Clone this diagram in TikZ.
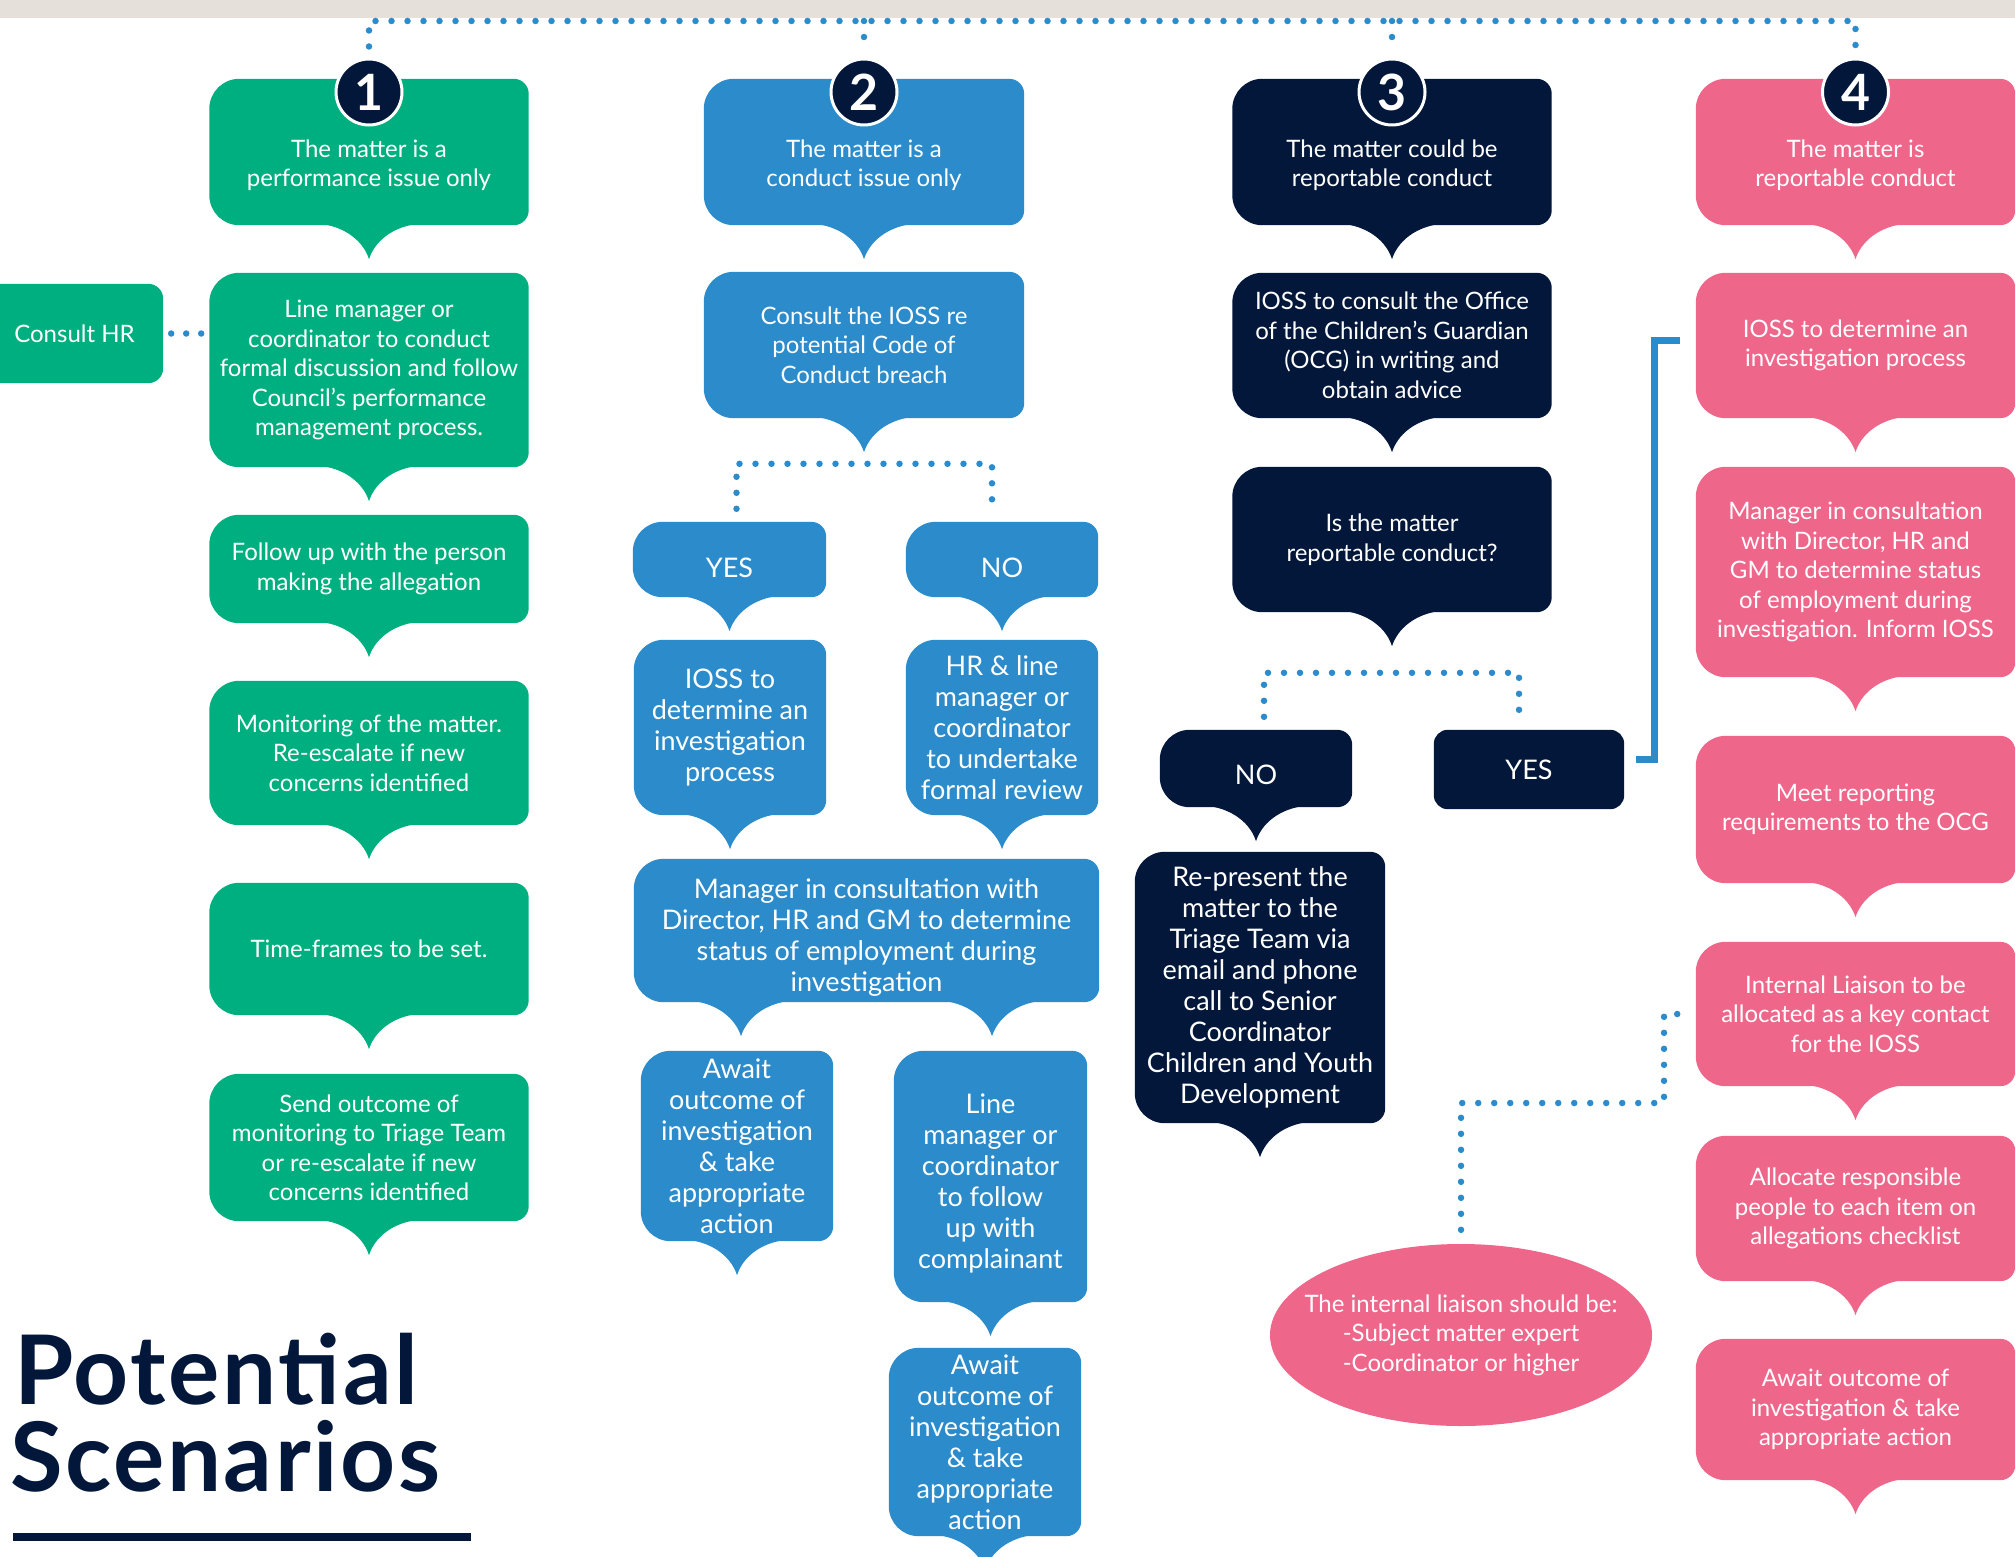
\documentclass[tikz,border=0pt]{standalone}
\usepackage{fontspec}
\setmainfont{Lato}
\usetikzlibrary{backgrounds,shapes.geometric}

\definecolor{clrGreen}{RGB}{0,175,127}
\definecolor{clrBlue}{RGB}{43,139,203}
\definecolor{clrNavy}{RGB}{2,23,58}
\definecolor{clrPink}{RGB}{239,102,139}
\definecolor{clrBand}{RGB}{230,224,218}

\newcommand\smallfont{\fontsize{24}{29.5}\selectfont}
\newcommand\largefont{\fontsize{27}{31}\selectfont}
\newcommand\lowerby{\rule{0pt}{34pt}}

% body of a speech bubble behind a node: small radius on top, large radius below
\newcommand\bubble[3][0]{%
  \fill[#3] ([yshift=#1pt]#2.north) [rounded corners=15pt] -- ([yshift=#1pt]#2.north east) -- (#2.south east)
    [rounded corners=30pt] -- (#2.south west) -- ([yshift=#1pt]#2.north west) [rounded corners=15pt] -- cycle;}
% pointer under a bubble, #1 = offset from the centre
\newcommand\pointer[3][0]{%
  \fill[#3] ([xshift=#1pt-55pt,yshift=2pt]#2.south)
    .. controls ([xshift=#1pt-22pt]#2.south) and ([xshift=#1pt-5pt,yshift=-18pt]#2.south) .. ([xshift=#1pt,yshift=-34pt]#2.south)
    .. controls ([xshift=#1pt+5pt,yshift=-18pt]#2.south) and ([xshift=#1pt+22pt]#2.south) .. ([xshift=#1pt+55pt,yshift=2pt]#2.south) -- cycle;}

\tikzset{
  txt/.style={text=white, align=center, inner sep=0pt, font=\smallfont},
  bigtxt/.style={txt, font=\largefont},
  num/.style={circle, fill=clrNavy, draw=white, line width=3pt, minimum size=66pt, inner sep=0pt,
    text=white, font=\fontsize{50}{50}\selectfont\bfseries},
  dotline/.style={draw=clrBlue, line width=6.5pt, line cap=round, dash pattern=on 0pt off 16pt},
  link/.style={draw=clrBlue, line width=7pt},
  title/.style={text=clrNavy, font=\fontsize{96}{96}\selectfont\bfseries\addfontfeature{LetterSpace=2.7},
    inner sep=0pt, anchor=base west},
}

\begin{document}
\begin{tikzpicture}[x=1pt, y=-1pt]
  \useasboundingbox (0,0) rectangle (2015,1557);
  \clip (0,0) rectangle (2015,1557);

  % column 1
  \node (g1)[txt, minimum width=319pt, minimum height=120pt] at (369,165) {The matter is a\\performance issue only};
  \node (g2)[txt, minimum width=319pt, minimum height=194pt] at (369,370) {Line manager or\\coordinator to conduct\\formal discussion and follow\\Council’s performance\\management process.};
  \node (g3)[txt, minimum width=319pt, minimum height=108pt] at (369,569) {Follow up with the person\\making the allegation};
  \node (g4)[txt, minimum width=319pt, minimum height=144pt] at (369,753) {Monitoring of the matter.\\Re-escalate if new\\concerns identified};
  \node (g5)[txt, minimum width=319pt, minimum height=132pt] at (369,949) {Time-frames to be set.};
  \node (g6)[txt, minimum width=319pt, minimum height=147pt] at (369,1147.5) {Send outcome of\\monitoring to Triage Team\\or re-escalate if new\\concerns identified};
  \node (hr)[txt, minimum width=177pt, minimum height=99pt] at (74.5,333.5) {Consult HR};

  % column 2
  \node (b1)[txt, minimum width=320pt, minimum height=120pt] at (864,165) {The matter is a\\conduct issue only};
  \node (b2)[txt, minimum width=320pt, minimum height=146pt] at (864,345) {Consult the IOSS re\\potential Code of\\Conduct breach};
  \node (yes2)[bigtxt, minimum width=193pt, minimum height=75pt, text height=35pt, text depth=0pt] at (729.5,559.5) {YES};
  \node (no2)[bigtxt, minimum width=192pt, minimum height=75pt, text height=35pt, text depth=0pt] at (1002,559.5) {NO};
  \node (ioss2)[bigtxt, minimum width=192pt, minimum height=175pt] at (730,727.5) {IOSS to\\determine an\\investigation\\process};
  \node (hr2)[bigtxt, minimum width=192pt, minimum height=175pt] at (1002,727.5) {HR \& line\\manager or\\coordinator\\to undertake\\formal review};
  \node (mgr2)[bigtxt, minimum width=465pt, minimum height=143pt] at (866.5,930.5) {\lowerby Manager in consultation with\\Director, HR and GM to determine\\status of employment during\\investigation};
  \node (await2a)[bigtxt, minimum width=192pt, minimum height=190pt] at (737,1146) {Await\\outcome of\\investigation\\\& take\\appropriate\\action};
  \node (line2)[bigtxt, minimum width=193pt, minimum height=251pt] at (990.5,1176.5) {\lowerby Line\\manager or\\coordinator\\to follow\\up with\\complainant};
  \node (await2b)[bigtxt, minimum width=192pt, minimum height=188pt] at (985,1442) {Await\\outcome of\\investigation\\\& take\\appropriate\\action};

  % column 3
  \node (d1)[txt, minimum width=319pt, minimum height=120pt] at (1392,165) {The matter could be\\reportable conduct};
  \node (d2)[txt, minimum width=319pt, minimum height=145pt] at (1392,345.5) {IOSS to consult the Office\\of the Children’s Guardian\\(OCG) in writing and\\obtain advice};
  \node (d3)[txt, minimum width=319pt, minimum height=145pt] at (1392,539.5) {Is the matter\\reportable conduct?};
  \node (no3)[bigtxt, minimum width=192pt, minimum height=77pt, text height=32pt, text depth=0pt] at (1256,768.5) {NO};
  \node (yes3)[bigtxt, minimum width=190pt, minimum height=79pt] at (1529,769.5) {YES};
  \node (rep3)[bigtxt, minimum width=250pt, minimum height=271pt] at (1260,987.5) {Re-present the\\matter to the\\Triage Team via\\email and phone\\call to Senior\\Coordinator\\Children and Youth\\Development};
  \node (liaison)[ellipse, fill=clrPink, minimum width=382pt, minimum height=182pt, inner sep=0pt] at (1461,1335) {};
  \node (liaisontxt)[txt] at (liaison.center) {The internal liaison should be:\\-Subject matter expert\\-Coordinator or higher};

  % column 4
  \node (p1)[txt, minimum width=319pt, minimum height=120pt] at (1855.5,165) {The matter is\\reportable conduct};
  \node (p2)[txt, minimum width=319pt, minimum height=145pt] at (1855.5,345.5) {IOSS to determine an\\investigation process};
  \node (p3)[txt, minimum width=319pt, minimum height=210pt] at (1855.5,572) {Manager in consultation\\with Director, HR and\\GM to determine status\\of employment during\\investigation. Inform IOSS};
  \node (p4)[txt, minimum width=319pt, minimum height=147pt] at (1855.5,809.5) {Meet reporting\\requirements to the OCG};
  \node (p5)[txt, minimum width=319pt, minimum height=144pt] at (1855.5,1014) {Internal Liaison to be\\allocated as a key contact\\for the IOSS};
  \node (p6)[txt, minimum width=319pt, minimum height=145pt] at (1855.5,1208.5) {Allocate responsible\\people to each item on\\allegations checklist};
  \node (p7)[txt, minimum width=319pt, minimum height=141pt] at (1855.5,1409.5) {Await outcome of\\investigation \& take\\appropriate action};

  \begin{scope}[on background layer]
    \fill[clrBand] (0,0) rectangle (2015,18);
    \bubble[26]{g1}{clrGreen} \pointer{g1}{clrGreen}
    \foreach \n in {g2,g3,g4,g5,g6} {\bubble{\n}{clrGreen} \pointer{\n}{clrGreen}}
    \fill[clrGreen, rounded corners=15pt] (hr.south west) rectangle (hr.north east);
    \bubble[26]{b1}{clrBlue} \pointer{b1}{clrBlue}
    \foreach \n in {b2,yes2,no2,ioss2,hr2,await2a,line2,await2b} {\bubble{\n}{clrBlue} \pointer{\n}{clrBlue}}
    \bubble{mgr2}{clrBlue} \pointer[-125.5]{mgr2}{clrBlue} \pointer[125.5]{mgr2}{clrBlue}
    \bubble[26]{d1}{clrNavy} \pointer{d1}{clrNavy}
    \foreach \n in {d2,d3,no3,rep3} {\bubble{\n}{clrNavy} \pointer{\n}{clrNavy}}
    \fill[clrNavy, rounded corners=14pt] (yes3.south west) rectangle (yes3.north east);
    \bubble[26]{p1}{clrPink} \pointer{p1}{clrPink}
    \foreach \n in {p2,p3,p4,p5,p6,p7} {\bubble{\n}{clrPink} \pointer{\n}{clrPink}}
  \end{scope}

  % scenario numbers
  \node (n1)[num] at (369,92) {1};
  \node (n2)[num] at (864,92) {2};
  \node (n3)[num] at (1392,92) {3};
  \node (n4)[num] at (1855.5,92) {4};

  % dotted links
  \coordinate (topline) at (0,21);
  \draw[dotline] ([yshift=11pt]n1.north) |- (topline -| n4.north) -- ([yshift=11pt]n4.north);
  \foreach \n in {n2,n3} \draw[dotline] (topline -| \n.north) -- ([yshift=11pt]\n.north);
  \draw[dotline, dash pattern=on 0pt off 15pt, shorten <=8pt, shorten >=8pt] (hr.east) -- (hr.east -| g2.west);
  \draw[dotline] ([xshift=7pt,yshift=13pt]yes2.north) -- ++(0,-45) -| ([xshift=-10pt,yshift=13pt]no2.north);
  \draw[dotline] ([xshift=8pt,yshift=13pt]no3.north) -- ++(0,-44) -| ([xshift=-10pt,yshift=13pt]yes3.north);
  \coordinate (bend) at (1664,1103);
  \draw[dotline] ([yshift=14pt]liaison.north) |- (bend) |- ([xshift=-10pt]p5.west);
  \draw[link] ([xshift=12pt,yshift=10pt]yes3.east) -- ++(18,0) |- ([xshift=-16pt,yshift=5pt]p2.west);

  % title
  \node (title1)[title] at (14,1404) {Potential};
  \node (title2)[title] at (10,1491) {Scenarios};
  \fill[clrNavy] (13,1533) rectangle (471,1541);
\end{tikzpicture}
\end{document}
